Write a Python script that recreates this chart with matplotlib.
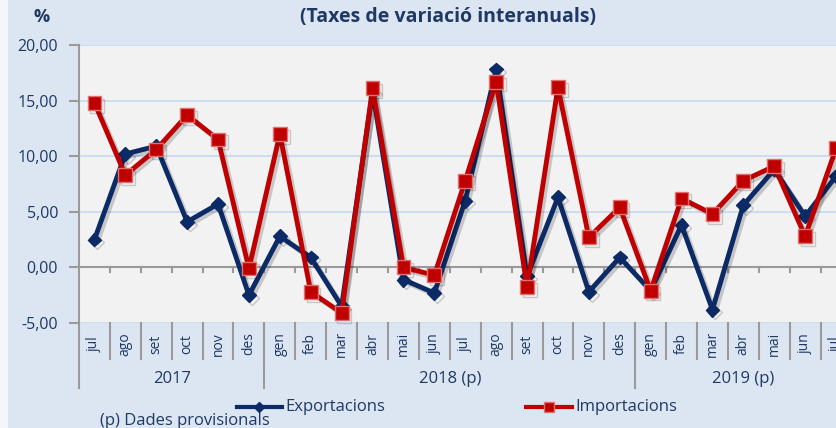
import matplotlib
matplotlib.use("Agg")
import matplotlib.pyplot as plt
import matplotlib.patheffects as pe
from matplotlib.transforms import blended_transform_factory
from matplotlib.lines import Line2D

plt.rcParams['font.family'] = ['Open Sans', 'DejaVu Sans']

months = ["jul", "ago", "set", "oct", "nov", "des",
          "gen", "feb", "mar", "abr", "mai", "jun", "jul", "ago", "set", "oct", "nov", "des",
          "gen", "feb", "mar", "abr", "mai", "jun", "jul"]
years = ["2017", "2018 (p)", "2019 (p)"]
year_spans = [(0, 5), (6, 17), (18, 24)]
exportacions = [2.5, 10.2, 10.9, 4.1, 5.7, -2.5,
                2.8, 0.9, -3.5, 15.8, -1.1, -2.3, 6.0, 17.8, -0.8, 6.3, -2.2, 0.9,
                -2.1, 3.8, -3.8, 5.6, 8.8, 4.6, 8.2]
importacions = [14.8, 8.3, 10.6, 13.7, 11.5, -0.1,
                12.0, -2.2, -4.1, 16.1, 0.0, -0.7, 7.8, 16.7, -1.8, 16.2, 2.7, 5.4,
                -2.1, 6.2, 4.8, 7.8, 9.1, 2.8, 10.7]
yticks = [-5, 0, 5, 10, 15, 20]

navy = "#0B2A66"
red = "#C00000"
txt = "#1F3864"
grey = "#9A9A9A"

fig = plt.figure(figsize=(8.37, 4.28), dpi=100)
fig.patch.set_facecolor("#DCE6F2")
fig.patches.append(plt.Rectangle((0, 0), 8/837, 1, transform=fig.transFigure,
                                 facecolor="#F4F6F9", edgecolor="none", zorder=0))

W, H = 837, 428
left, right, top, bottom = 79, 851.5, 45, 323
ax = fig.add_axes([left / W, (H - bottom) / H, (right - left) / W, (bottom - top) / H])
ax.set_facecolor("#F2F2F2")
x = list(range(len(months)))
ax.set_xlim(-0.5, len(months) - 0.5)
ax.set_ylim(-5, 20)

for v in yticks:
    if v != 0:
        ax.axhline(v, color="#C6D9F1", lw=1.2, zorder=1)
ax.axhline(0, color=grey, lw=1.5, zorder=2)
for i in range(len(months)):
    ax.plot([i + 0.5, i + 0.5], [0, -0.45], color=grey, lw=1.5, zorder=2, clip_on=False)

for s in ["top", "right", "bottom"]:
    ax.spines[s].set_visible(False)
ax.spines["left"].set_color(grey)
ax.spines["left"].set_linewidth(1.5)
ax.set_yticks(yticks)
ax.set_yticklabels([f"{v:.2f}".replace(".", ",") for v in yticks], fontsize=11.5, color=txt)
ax.tick_params(axis="y", length=7, color=grey, width=1.5, pad=8)
ax.set_xticks([])

shadow = [pe.SimpleLineShadow(offset=(2, -2), shadow_color="k", alpha=0.18), pe.Normal()]
ax.plot(x, exportacions, color=navy, lw=3.5, marker="D", markersize=7,
        markerfacecolor=navy, markeredgecolor=navy, zorder=4, path_effects=shadow,
        clip_on=False)
ax.plot(x, importacions, color=red, lw=3.5, marker="s", markersize=10,
        markerfacecolor=red, markeredgecolor="#E07070", markeredgewidth=1, zorder=5,
        path_effects=shadow, clip_on=False)

tr = blended_transform_factory(ax.transData, ax.transAxes)
ph = bottom - top
def ay(py):
    return (bottom - py) / ph
for i, m in enumerate(months):
    ax.text(i, ay(344), m, rotation=90, ha="center", va="center", fontsize=10,
            color=txt, transform=tr, clip_on=False)
for i in range(len(months)):
    b = i + 0.5
    ax.plot([b, b], [ay(323), ay(359)], color=grey, lw=1.5, transform=tr, clip_on=False)
bounds = [-0.5, 5.5, 17.5]
for b in bounds:
    ax.plot([b, b], [ay(323), ay(388)], color=grey, lw=1.5, transform=tr, clip_on=False)
for (a, b), yl in zip(year_spans, years):
    ax.text((a + b) / 2, ay(379), yl, ha="center", va="center", fontsize=12,
            color=txt, transform=tr, clip_on=False)

fig.text(448 / W, 1 - 17 / H, "(Taxes de variació interanuals)", ha="center", va="center",
         fontsize=14, fontweight="bold", color=txt)
fig.text(42 / W, 1 - 17 / H, "%", ha="center", va="center", fontsize=13,
         fontweight="bold", color=txt)

def leg(x0, x1, ty, label, color, marker, ms, mec):
    fig.lines.append(Line2D([x0 / W, x1 / W], [1 - ty / H] * 2, transform=fig.transFigure,
                            color=color, lw=3))
    fig.lines.append(Line2D([(x0 + x1) / 2 / W], [1 - ty / H], transform=fig.transFigure,
                            color=color, marker=marker, markersize=ms, markerfacecolor=color,
                            markeredgecolor=mec, lw=0))
    fig.text((x1 + 3) / W, 1 - ty / H, label, ha="left", va="center", fontsize=12, color=txt)

leg(237, 282, 407, "Exportacions", navy, "D", 5, navy)
leg(526, 572, 407, "Importacions", red, "s", 7, "#E07070")
fig.text(100 / W, 1 - 421 / H, "(p) Dades provisionals", ha="left", va="center",
         fontsize=12, color=txt)

fig.savefig("out.png", dpi=100, facecolor=fig.get_facecolor())
